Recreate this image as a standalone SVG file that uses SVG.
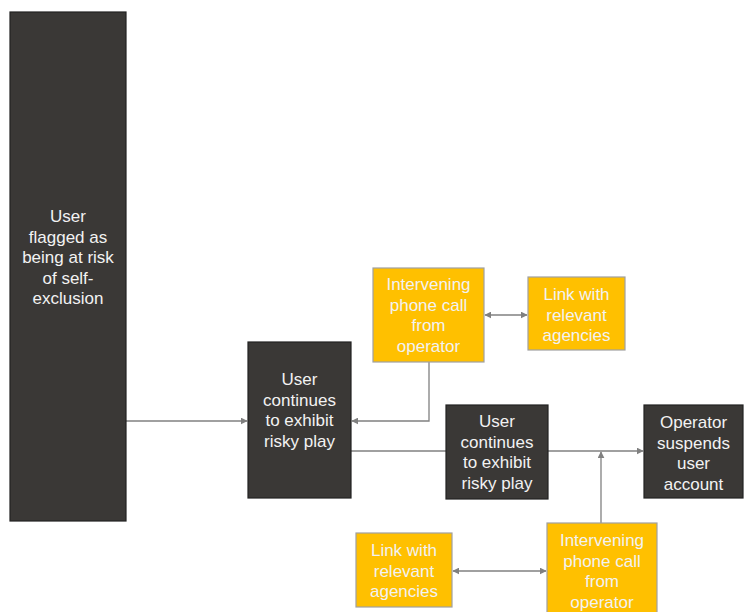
<svg xmlns="http://www.w3.org/2000/svg" width="744" height="612" viewBox="0 0 744 612">
  <style>
    .dark { fill: #3a3836; stroke: #222; stroke-width: 1.2; }
    .amber { fill: #ffc000; stroke: #a0a0a0; stroke-width: 1.2; }
    .lbl { font-family: "Liberation Sans", Arial, sans-serif; font-size: 17px; fill: #f2f2f2; text-anchor: middle; }
    .wire { fill: none; stroke: #808080; stroke-width: 1.3; }
  </style>
  <defs>
    <marker id="tip" viewBox="0 0 10 10" refX="9" refY="5" markerWidth="7" markerHeight="7" markerUnits="userSpaceOnUse" orient="auto-start-reverse">
      <path d="M0,0 L10,5 L0,10 z" fill="#808080"/>
    </marker>
  </defs>

  <g id="connectors">
    <line class="wire" x1="126" y1="421" x2="247" y2="421" marker-end="url(#tip)"/>
    <polyline class="wire" points="429,362 429,421 352,421" marker-end="url(#tip)"/>
    <line class="wire" x1="485" y1="315" x2="527" y2="315" marker-start="url(#tip)" marker-end="url(#tip)"/>
    <line class="wire" x1="351" y1="451" x2="643" y2="451" marker-end="url(#tip)"/>
    <line class="wire" x1="601" y1="523" x2="601" y2="452" marker-end="url(#tip)"/>
    <line class="wire" x1="453" y1="571" x2="546" y2="571" marker-start="url(#tip)" marker-end="url(#tip)"/>
  </g>

  <g id="flagged">
    <rect class="dark" x="10" y="12" width="116" height="509"/>
    <text class="lbl"><tspan x="68" y="222">User</tspan><tspan x="68" y="242.5">flagged as</tspan><tspan x="68" y="263">being at risk</tspan><tspan x="68" y="283.5">of self-</tspan><tspan x="68" y="304">exclusion</tspan></text>
  </g>

  <g id="risky-play-1">
    <rect class="dark" x="248" y="342" width="103" height="156"/>
    <text class="lbl"><tspan x="299.5" y="385">User</tspan><tspan x="299.5" y="405.5">continues</tspan><tspan x="299.5" y="426">to exhibit</tspan><tspan x="299.5" y="446.5">risky play</tspan></text>
  </g>

  <g id="call-1">
    <rect class="amber" x="373" y="268" width="111" height="94"/>
    <text class="lbl"><tspan x="428.5" y="290">Intervening</tspan><tspan x="428.5" y="310.5">phone call</tspan><tspan x="428.5" y="331">from</tspan><tspan x="428.5" y="351.5">operator</tspan></text>
  </g>

  <g id="agencies-1">
    <rect class="amber" x="528" y="277" width="97" height="73"/>
    <text class="lbl"><tspan x="576.5" y="300">Link with</tspan><tspan x="576.5" y="320.5">relevant</tspan><tspan x="576.5" y="341">agencies</tspan></text>
  </g>

  <g id="risky-play-2">
    <rect class="dark" x="446" y="405" width="102" height="94"/>
    <text class="lbl"><tspan x="497" y="427">User</tspan><tspan x="497" y="447.5">continues</tspan><tspan x="497" y="468">to exhibit</tspan><tspan x="497" y="488.5">risky play</tspan></text>
  </g>

  <g id="suspend">
    <rect class="dark" x="644" y="405" width="99" height="93"/>
    <text class="lbl"><tspan x="693.5" y="428">Operator</tspan><tspan x="693.5" y="448.5">suspends</tspan><tspan x="693.5" y="469">user</tspan><tspan x="693.5" y="489.5">account</tspan></text>
  </g>

  <g id="agencies-2">
    <rect class="amber" x="356" y="533" width="96" height="74"/>
    <text class="lbl"><tspan x="404" y="556">Link with</tspan><tspan x="404" y="576.5">relevant</tspan><tspan x="404" y="597">agencies</tspan></text>
  </g>

  <g id="call-2">
    <rect class="amber" x="547" y="523" width="110" height="100"/>
    <text class="lbl"><tspan x="602" y="546">Intervening</tspan><tspan x="602" y="566.5">phone call</tspan><tspan x="602" y="587">from</tspan><tspan x="602" y="607.5">operator</tspan></text>
  </g>
</svg>
